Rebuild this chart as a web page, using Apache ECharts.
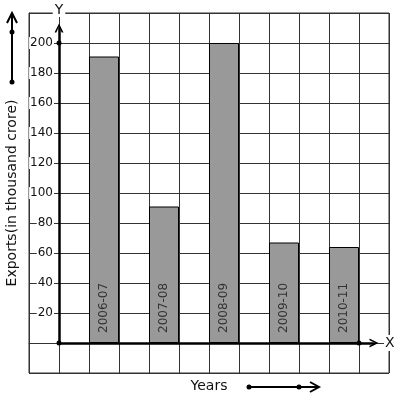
<!DOCTYPE html>
<html>
<head>
<meta charset="utf-8">
<script src="https://cdn.jsdelivr.net/npm/echarts@6/dist/echarts.min.js"></script>
<style>
  html, body { margin: 0; padding: 0; background: #fff; }
  #chart { width: 397px; height: 399px; }
</style>
</head>
<body>
<div id="chart"></div>
<script>
// values
const years = ['2006-07', '2007-08', '2008-09', '2009-10', '2010-11'];
const exports = [191, 91, 200, 67, 64];
const yTicks = [20, 40, 60, 80, 100, 120, 140, 160, 180, 200];

// 12 grid columns, a bar in every second one starting at column 2
const slots = new Array(12).fill('');
const slotValues = new Array(12).fill('-');
years.forEach((y, i) => {
    slots[2 + 2 * i] = y;
    slotValues[2 + 2 * i] = exports[i];
});

const INK = '#111';
const GRID = '#333';
const FONT = 'DejaVu Sans';

// open chevron used for the axis arrows
const chevron = 'path://M0,10 L5,0 L10,10 L8,10 L5,3.6 L2,10 Z';

const chart = echarts.init(document.getElementById('chart'), null, { renderer: 'canvas' });

const option = {
    animation: false,
    textStyle: { fontFamily: FONT },
    grid: [
        // graph paper
        { left: 29, top: 13, width: 360, height: 360, show: true, borderColor: GRID, borderWidth: 1, containLabel: false, outerBoundsMode: 'none' },
        // thick axes from the origin
        { left: 59, top: 28, width: 315, height: 315, containLabel: false, outerBoundsMode: 'none' }
    ],
    xAxis: [
        {
            gridIndex: 0,
            type: 'category',
            data: slots,
            boundaryGap: true,
            axisLine: { show: true, lineStyle: { color: GRID, width: 1 } },
            axisTick: { show: false },
            axisLabel: { show: false },
            splitLine: { show: true, interval: 0, lineStyle: { color: GRID, width: 1 } },
            name: 'Years',
            nameLocation: 'middle',
            nameGap: 6,
            nameTextStyle: { color: INK, fontSize: 14, fontFamily: FONT }
        },
        {
            gridIndex: 1,
            type: 'value',
            min: 0,
            max: 10.5,
            axisLine: {
                show: true, onZero: false,
                symbol: ['none', chevron], symbolSize: [9, 10],
                lineStyle: { color: '#000', width: 2.5 }
            },
            axisTick: { show: false },
            axisLabel: { show: false },
            splitLine: { show: false },
            name: 'X',
            nameLocation: 'end',
            nameGap: 10,
            nameTextStyle: { color: INK, fontSize: 14, fontFamily: FONT, backgroundColor: '#fff', padding: [1, 1] }
        }
    ],
    yAxis: [
        {
            gridIndex: 0,
            type: 'value',
            min: -20,
            max: 220,
            interval: 20,
            axisLine: { show: true, lineStyle: { color: GRID, width: 1 } },
            axisTick: { show: false },
            axisLabel: { show: false },
            splitLine: { show: true, lineStyle: { color: GRID, width: 1 } },
            name: 'Exports(in thousand crore)',
            nameLocation: 'middle',
            nameGap: 10,
            nameTextStyle: { color: INK, fontSize: 14, fontFamily: FONT }
        },
        {
            gridIndex: 1,
            type: 'value',
            min: 0,
            max: 210,
            interval: 20,
            axisLine: {
                show: true, onZero: false,
                symbol: ['none', chevron], symbolSize: [9, 10],
                lineStyle: { color: '#000', width: 2.5 }
            },
            axisTick: { show: false },
            splitLine: { show: false },
            axisLabel: {
                color: INK,
                fontSize: 12,
                fontFamily: FONT,
                margin: 5,
                backgroundColor: '#fff',
                padding: [0, 1],
                formatter: v => (yTicks.includes(v) ? String(v) : '')
            },
            name: 'Y',
            nameLocation: 'end',
            nameGap: 11,
            nameTextStyle: { color: INK, fontSize: 14, fontFamily: FONT, backgroundColor: '#fff', padding: [0, 2] }
        }
    ],
    series: [
        {
            type: 'bar',
            xAxisIndex: 0,
            yAxisIndex: 0,
            data: slotValues,
            barWidth: '100%',
            itemStyle: { color: '#999999', borderColor: '#000', borderWidth: 1 },
            label: {
                show: true,
                position: 'insideBottom',
                distance: 10,
                rotate: 90,
                align: 'left',
                verticalAlign: 'middle',
                color: '#333',
                fontSize: 12,
                fontFamily: FONT,
                formatter: p => p.name
            }
        }
    ]
};

chart.setOption(option);

// dots on the axes, placed through grid 2's scales
const dotAt = (x, y) => {
    const p = chart.convertToPixel({ gridIndex: 1 }, [x, y]);
    return { type: 'circle', shape: { cx: p[0], cy: p[1], r: 2.5 }, style: { fill: '#000' }, z: 100 };
};

// the little arrows next to the axis titles
const decoArrow = (pts, dots) => ([
    { type: 'polyline', shape: { points: pts.line }, style: { stroke: '#000', lineWidth: 2, fill: null }, z: 100 },
    { type: 'polyline', shape: { points: pts.head }, style: { stroke: '#000', lineWidth: 2, fill: null }, z: 100 },
    ...dots.map(d => ({ type: 'circle', shape: { cx: d[0], cy: d[1], r: 2.5 }, style: { fill: '#000' }, z: 100 }))
]);

chart.setOption({
    graphic: [
        dotAt(0, 0),
        dotAt(0, 200),
        dotAt(10, 0),
        ...decoArrow({ line: [[12, 82], [12, 14]], head: [[7, 23], [12, 13], [17, 23]] }, [[12, 32], [12, 82]]),
        ...decoArrow({ line: [[249, 387], [318, 387]], head: [[310, 382], [319, 387], [310, 392]] }, [[249, 387], [299, 387]])
    ]
});
</script>
</body>
</html>
